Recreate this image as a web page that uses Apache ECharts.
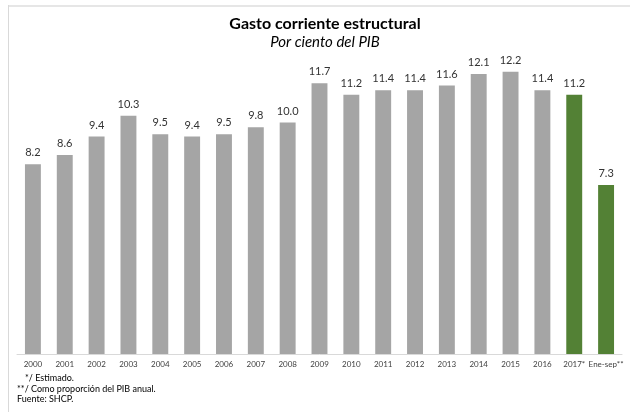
<!DOCTYPE html>
<html>
<head>
<meta charset="utf-8">
<script src="https://cdn.jsdelivr.net/npm/echarts@6/dist/echarts.min.js"></script>
<style>
  html, body { margin: 0; padding: 0; background: #fff; }
  #chart { width: 630px; height: 412px; }
</style>
</head>
<body>
<div id="chart"></div>
<script>
// categorias (años)
var categories = ['2000', '2001', '2002', '2003', '2004', '2005', '2006', '2007', '2008', '2009',
  '2010', '2011', '2012', '2013', '2014', '2015', '2016', '2017*', 'Ene-sep**'];
// gasto corriente estructural, % del PIB
var values = [8.2, 8.6, 9.4, 10.3, 9.5, 9.4, 9.5, 9.8, 10.0, 11.7,
  11.2, 11.4, 11.4, 11.6, 12.1, 12.2, 11.4, 11.2, 7.3];
// las dos ultimas barras van en verde
var estimated = [false, false, false, false, false, false, false, false, false, false,
  false, false, false, false, false, false, false, true, true];

var grayColor = '#A5A5A5';
var greenColor = '#538135';

var chart = echarts.init(document.getElementById('chart'));

var barData = values.map(function (v, i) {
  return { value: v, itemStyle: { color: estimated[i] ? greenColor : grayColor } };
});

var option = {
  animation: false,
  textStyle: { fontFamily: 'Lato' },
  title: {
    text: 'Gasto corriente estructural',
    subtext: 'Por ciento del PIB',
    left: 320,
    textAlign: 'center',
    top: 11,
    itemGap: 3,
    textStyle: { fontSize: 16, fontWeight: 'bold', color: '#000', fontFamily: 'Lato' },
    subtextStyle: { fontSize: 15, fontStyle: 'italic', color: '#000', fontFamily: 'Lato' }
  },
  grid: { left: 17, right: 8, top: 30, bottom: 58, containLabel: false },
  xAxis: {
    type: 'category',
    data: categories,
    axisLine: { show: true, lineStyle: { color: '#d9d9d9', width: 1 } },
    axisTick: { show: false },
    axisLabel: { interval: 0, fontSize: 8, color: '#404040', margin: 6, fontFamily: 'Lato' }
  },
  yAxis: {
    type: 'value',
    min: 0,
    max: 14,
    show: false,
    splitLine: { show: false }
  },
  graphic: [
    // marco gris del grafico
    { type: 'rect', shape: { x: 8, y: 5, width: 622, height: 2 }, style: { fill: '#e6e6e6' } },
    { type: 'rect', shape: { x: 8, y: 5, width: 1, height: 407 }, style: { fill: '#d9d9d9' } },
    { type: 'text', left: 25, top: 374, style: { text: '*/ Estimado.', fontSize: 9, fill: '#000', fontFamily: 'Lato' } },
    { type: 'text', left: 17, top: 385, style: { text: '**/ Como proporción del PIB anual.', fontSize: 9, fill: '#000', fontFamily: 'Lato' } },
    { type: 'text', left: 17, top: 395, style: { text: 'Fuente: SHCP.', fontSize: 9, fill: '#000', fontFamily: 'Lato' } }
  ],
  series: [{
    type: 'bar',
    data: barData,
    barWidth: '50%',
    label: {
      show: true,
      position: 'top',
      distance: 6,
      fontSize: 11,
      color: '#333',
      fontFamily: 'Lato',
      formatter: function (p) { return p.value.toFixed(1); }
    }
  }]
};

chart.setOption(option, true);
</script>
</body>
</html>
